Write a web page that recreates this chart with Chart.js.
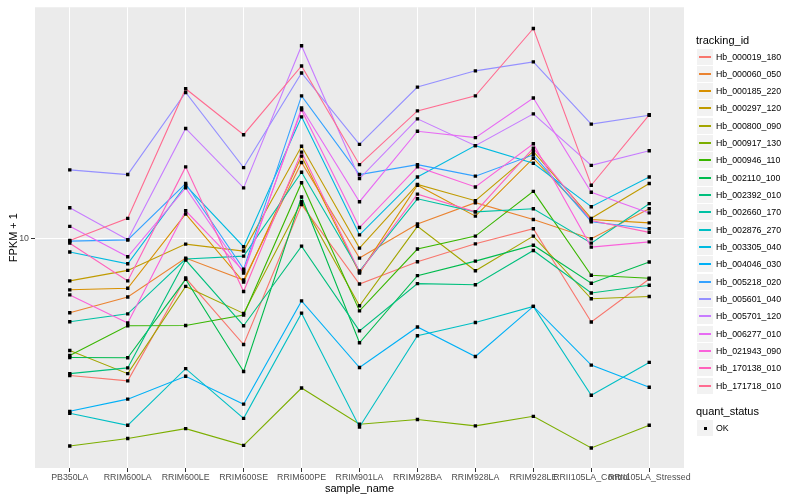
<!DOCTYPE html>
<html>
<head>
<meta charset="utf-8">
<script src="https://cdn.jsdelivr.net/npm/chart.js@4.4.0/dist/chart.umd.min.js"></script>
<style>
  body { margin: 0; background: #fff; }
  #wrap { position: relative; width: 800px; height: 500px; font-family: "Liberation Sans", Arial, sans-serif; }
  #grafico { position: absolute; left: 0; top: 0; }
  .leg-titulo { position: absolute; left: 696px; font-size: 11px; color: #000; line-height: 12px; }
  .leg-item { position: absolute; left: 697px; height: 16px; display: flex; align-items: center; }
  .leg-caixa { width: 16px; height: 16px; background: #F2F2F2; position: relative; flex: none; }
  .leg-caixa span { position: absolute; left: 2px; width: 12px; top: 7px; height: 2px; }
  .leg-caixa b { position: absolute; left: 7px; top: 7px; width: 3px; height: 3px; background: #000; }
  .leg-texto { margin-left: 3px; font-size: 8.8px; line-height: 10px; color: #000; }
</style>
</head>
<body>
<div id="wrap">
  <canvas id="grafico" width="800" height="500"></canvas>
  <div id="legenda"></div>
</div>
<script>
const sampleNames = ['PB350LA', 'RRIM600LA', 'RRIM600LE', 'RRIM600SE', 'RRIM600PE', 'RRIM901LA',
  'RRIM928BA', 'RRIM928LA', 'RRIM928LE', 'RRII105LA_Control', 'RRII105LA_Stressed'];

const trackingIds = ['Hb_000019_180', 'Hb_000060_050', 'Hb_000185_220', 'Hb_000297_120', 'Hb_000800_090',
  'Hb_000917_130', 'Hb_000946_110', 'Hb_002110_100', 'Hb_002392_010', 'Hb_002660_170', 'Hb_002876_270',
  'Hb_003305_040', 'Hb_004046_030', 'Hb_005218_020', 'Hb_005601_040', 'Hb_005701_120', 'Hb_006277_010',
  'Hb_021943_090', 'Hb_170138_010', 'Hb_171718_010'];

// FPKM + 1, um valor por amostra
const hb_000019_180 = [3.48, 3.34, 7.38, 4.42, 13.0, 7.05, 8.37, 9.61, 10.8, 5.26, 7.33];
const hb_000060_050 = [5.65, 6.38, 8.61, 7.27, 18.0, 8.61, 11.2, 13.2, 11.6, 10.0, 12.6];
const hb_000185_220 = [6.74, 6.82, 12.1, 7.16, 18.9, 7.67, 15.1, 11.9, 18.6, 11.6, 11.3];
const hb_000297_120 = [7.22, 7.83, 9.59, 9.09, 20.4, 9.30, 15.2, 13.4, 19.6, 11.7, 15.3];
const hb_000800_090 = [4.22, 3.53, 6.92, 5.62, 13.3, 5.96, 11.0, 7.81, 10.2, 6.29, 6.40];
const hb_000917_130 = [2.02, 2.14, 2.31, 2.03, 3.16, 2.39, 2.48, 2.36, 2.54, 1.99, 2.37];
const hb_000946_110 = [4.06, 5.11, 5.12, 5.55, 15.4, 5.73, 9.23, 10.2, 14.4, 7.54, 7.37];
const hb_002110_100 = [4.00, 3.99, 7.31, 3.59, 13.8, 4.48, 7.52, 8.41, 9.51, 7.09, 8.35];
const hb_002392_010 = [3.53, 3.69, 8.48, 5.11, 9.44, 4.91, 7.07, 7.01, 9.13, 6.58, 6.98];
const hb_002660_170 = [5.27, 5.60, 8.55, 8.74, 16.7, 7.79, 13.6, 12.3, 12.6, 9.66, 13.1];
const hb_002876_270 = [2.60, 2.37, 3.67, 2.50, 5.63, 2.34, 4.73, 5.24, 5.93, 2.99, 3.85];
const hb_003305_040 = [9.02, 8.24, 15.1, 9.40, 25.6, 10.3, 16.1, 20.5, 17.9, 12.8, 16.1];
const hb_004046_030 = [2.64, 2.90, 3.46, 2.79, 6.19, 3.70, 5.06, 4.03, 5.93, 3.77, 3.18];
const hb_005218_020 = [9.81, 9.91, 15.3, 7.91, 30.1, 16.4, 17.7, 16.2, 19.1, 11.4, 10.8];
const hb_005601_040 = [17.0, 16.4, 30.9, 17.3, 35.9, 20.7, 32.2, 36.5, 39.1, 24.2, 25.9];
const hb_005701_120 = [12.7, 9.91, 23.4, 14.8, 44.3, 15.9, 25.2, 20.5, 26.2, 17.6, 19.7];
const hb_006277_010 = [11.0, 8.70, 14.8, 7.67, 27.4, 13.3, 22.9, 21.8, 29.6, 14.3, 12.2];
const hb_021943_090 = [6.48, 5.22, 12.4, 7.79, 27.0, 10.9, 17.4, 14.9, 20.8, 9.37, 9.76];
const hb_170138_010 = [9.66, 7.22, 17.4, 6.65, 19.5, 7.73, 14.1, 12.3, 20.1, 11.5, 10.5];
const hb_171718_010 = [9.86, 11.7, 31.8, 22.3, 37.9, 17.7, 26.8, 30.1, 50.6, 15.1, 26.0];

const yTicks = [10];
const yMin = 1.705;
const yMax = 59.6;

const series = [hb_000019_180, hb_000060_050, hb_000185_220, hb_000297_120, hb_000800_090,
  hb_000917_130, hb_000946_110, hb_002110_100, hb_002392_010, hb_002660_170, hb_002876_270,
  hb_003305_040, hb_004046_030, hb_005218_020, hb_005601_040, hb_005701_120, hb_006277_010,
  hb_021943_090, hb_170138_010, hb_171718_010];

// paleta hue do ggplot para 20 grupos
const cores = ['#F8766D', '#EA8331', '#D89000', '#C09B00', '#A3A500', '#7CAE00', '#39B600', '#00BB4E',
  '#00BF7D', '#00C1A3', '#00BFC4', '#00BAE0', '#00B0F6', '#35A2FF', '#9590FF', '#C77CFF', '#E76BF3',
  '#FA62DB', '#FF62BC', '#FF6C91'];

const fonte = '"Liberation Sans", Arial, sans-serif';

function pontos(valores) {
  return valores.map((v, i) => ({ x: i + 1, y: v }));
}

const linhas = series.map((valores, i) => ({
  label: trackingIds[i],
  data: pontos(valores),
  borderColor: cores[i],
  borderWidth: 1.1,
  pointRadius: 0,
  fill: false,
  order: 40 - i
}));

const marcadores = series.map((valores, i) => ({
  label: trackingIds[i] + ' OK',
  data: pontos(valores),
  showLine: false,
  pointStyle: 'rect',
  pointRadius: 2.4,
  pointBackgroundColor: '#000',
  pointBorderWidth: 0,
  order: 0
}));

const fundoPainel = {
  id: 'fundoPainel',
  beforeDraw(chart) {
    const { ctx, chartArea: a } = chart;
    ctx.save();
    ctx.fillStyle = '#EBEBEB';
    ctx.fillRect(a.left, a.top, a.right - a.left, a.bottom - a.top);
    ctx.restore();
  }
};

new Chart(document.getElementById('grafico'), {
  type: 'line',
  data: { datasets: linhas.concat(marcadores) },
  plugins: [fundoPainel],
  options: {
    responsive: false,
    animation: false,
    devicePixelRatio: 1,
    layout: { padding: { left: 0, right: 116, top: 5, bottom: 0 } },
    plugins: { legend: { display: false }, tooltip: { enabled: false } },
    scales: {
      x: {
        type: 'linear',
        min: 0.4,
        max: 11.6,
        bounds: 'data',
        afterBuildTicks: s => { s.ticks = sampleNames.map((n, i) => ({ value: i + 1 })); },
        afterFit: s => { s.height = 32; },
        ticks: {
          autoSkip: false,
          maxRotation: 0,
          minRotation: 0,
          padding: 0,
          color: '#4D4D4D',
          font: { family: fonte, size: 8.8 },
          callback: v => sampleNames[v - 1]
        },
        grid: { color: '#FFFFFF', lineWidth: 1, tickColor: '#333333', tickLength: 4 },
        border: { display: false },
        title: {
          display: true,
          text: 'sample_name',
          color: '#000',
          font: { family: fonte, size: 11 },
          padding: { top: 0, bottom: 4 }
        }
      },
      y: {
        type: 'logarithmic',
        min: yMin,
        max: yMax,
        bounds: 'data',
        afterBuildTicks: s => { s.ticks = yTicks.map(v => ({ value: v })); },
        afterFit: s => { s.width = 35; },
        ticks: {
          padding: 2,
          color: '#4D4D4D',
          font: { family: fonte, size: 8.8 },
          callback: v => String(v)
        },
        grid: { color: '#FFFFFF', lineWidth: 1, tickColor: '#333333', tickLength: 4 },
        border: { display: false },
        title: {
          display: true,
          text: 'FPKM + 1',
          color: '#000',
          font: { family: fonte, size: 11 },
          padding: { top: 7, bottom: 0 }
        }
      }
    }
  }
});

// legenda no estilo do ggplot
const legenda = document.getElementById('legenda');
let html = '<div class="leg-titulo" style="top:34px">tracking_id</div>';
trackingIds.forEach((id, i) => {
  const topo = Math.round(48.5 + i * 17.33);
  html += `<div class="leg-item" style="top:${topo}px">
    <div class="leg-caixa"><span style="background:${cores[i]}"></span></div>
    <div class="leg-texto">${id}</div></div>`;
});
html += '<div class="leg-titulo" style="top:405px">quant_status</div>';
html += `<div class="leg-item" style="top:420px">
  <div class="leg-caixa"><b></b></div>
  <div class="leg-texto">OK</div></div>`;
legenda.innerHTML = html;
</script>
</body>
</html>
